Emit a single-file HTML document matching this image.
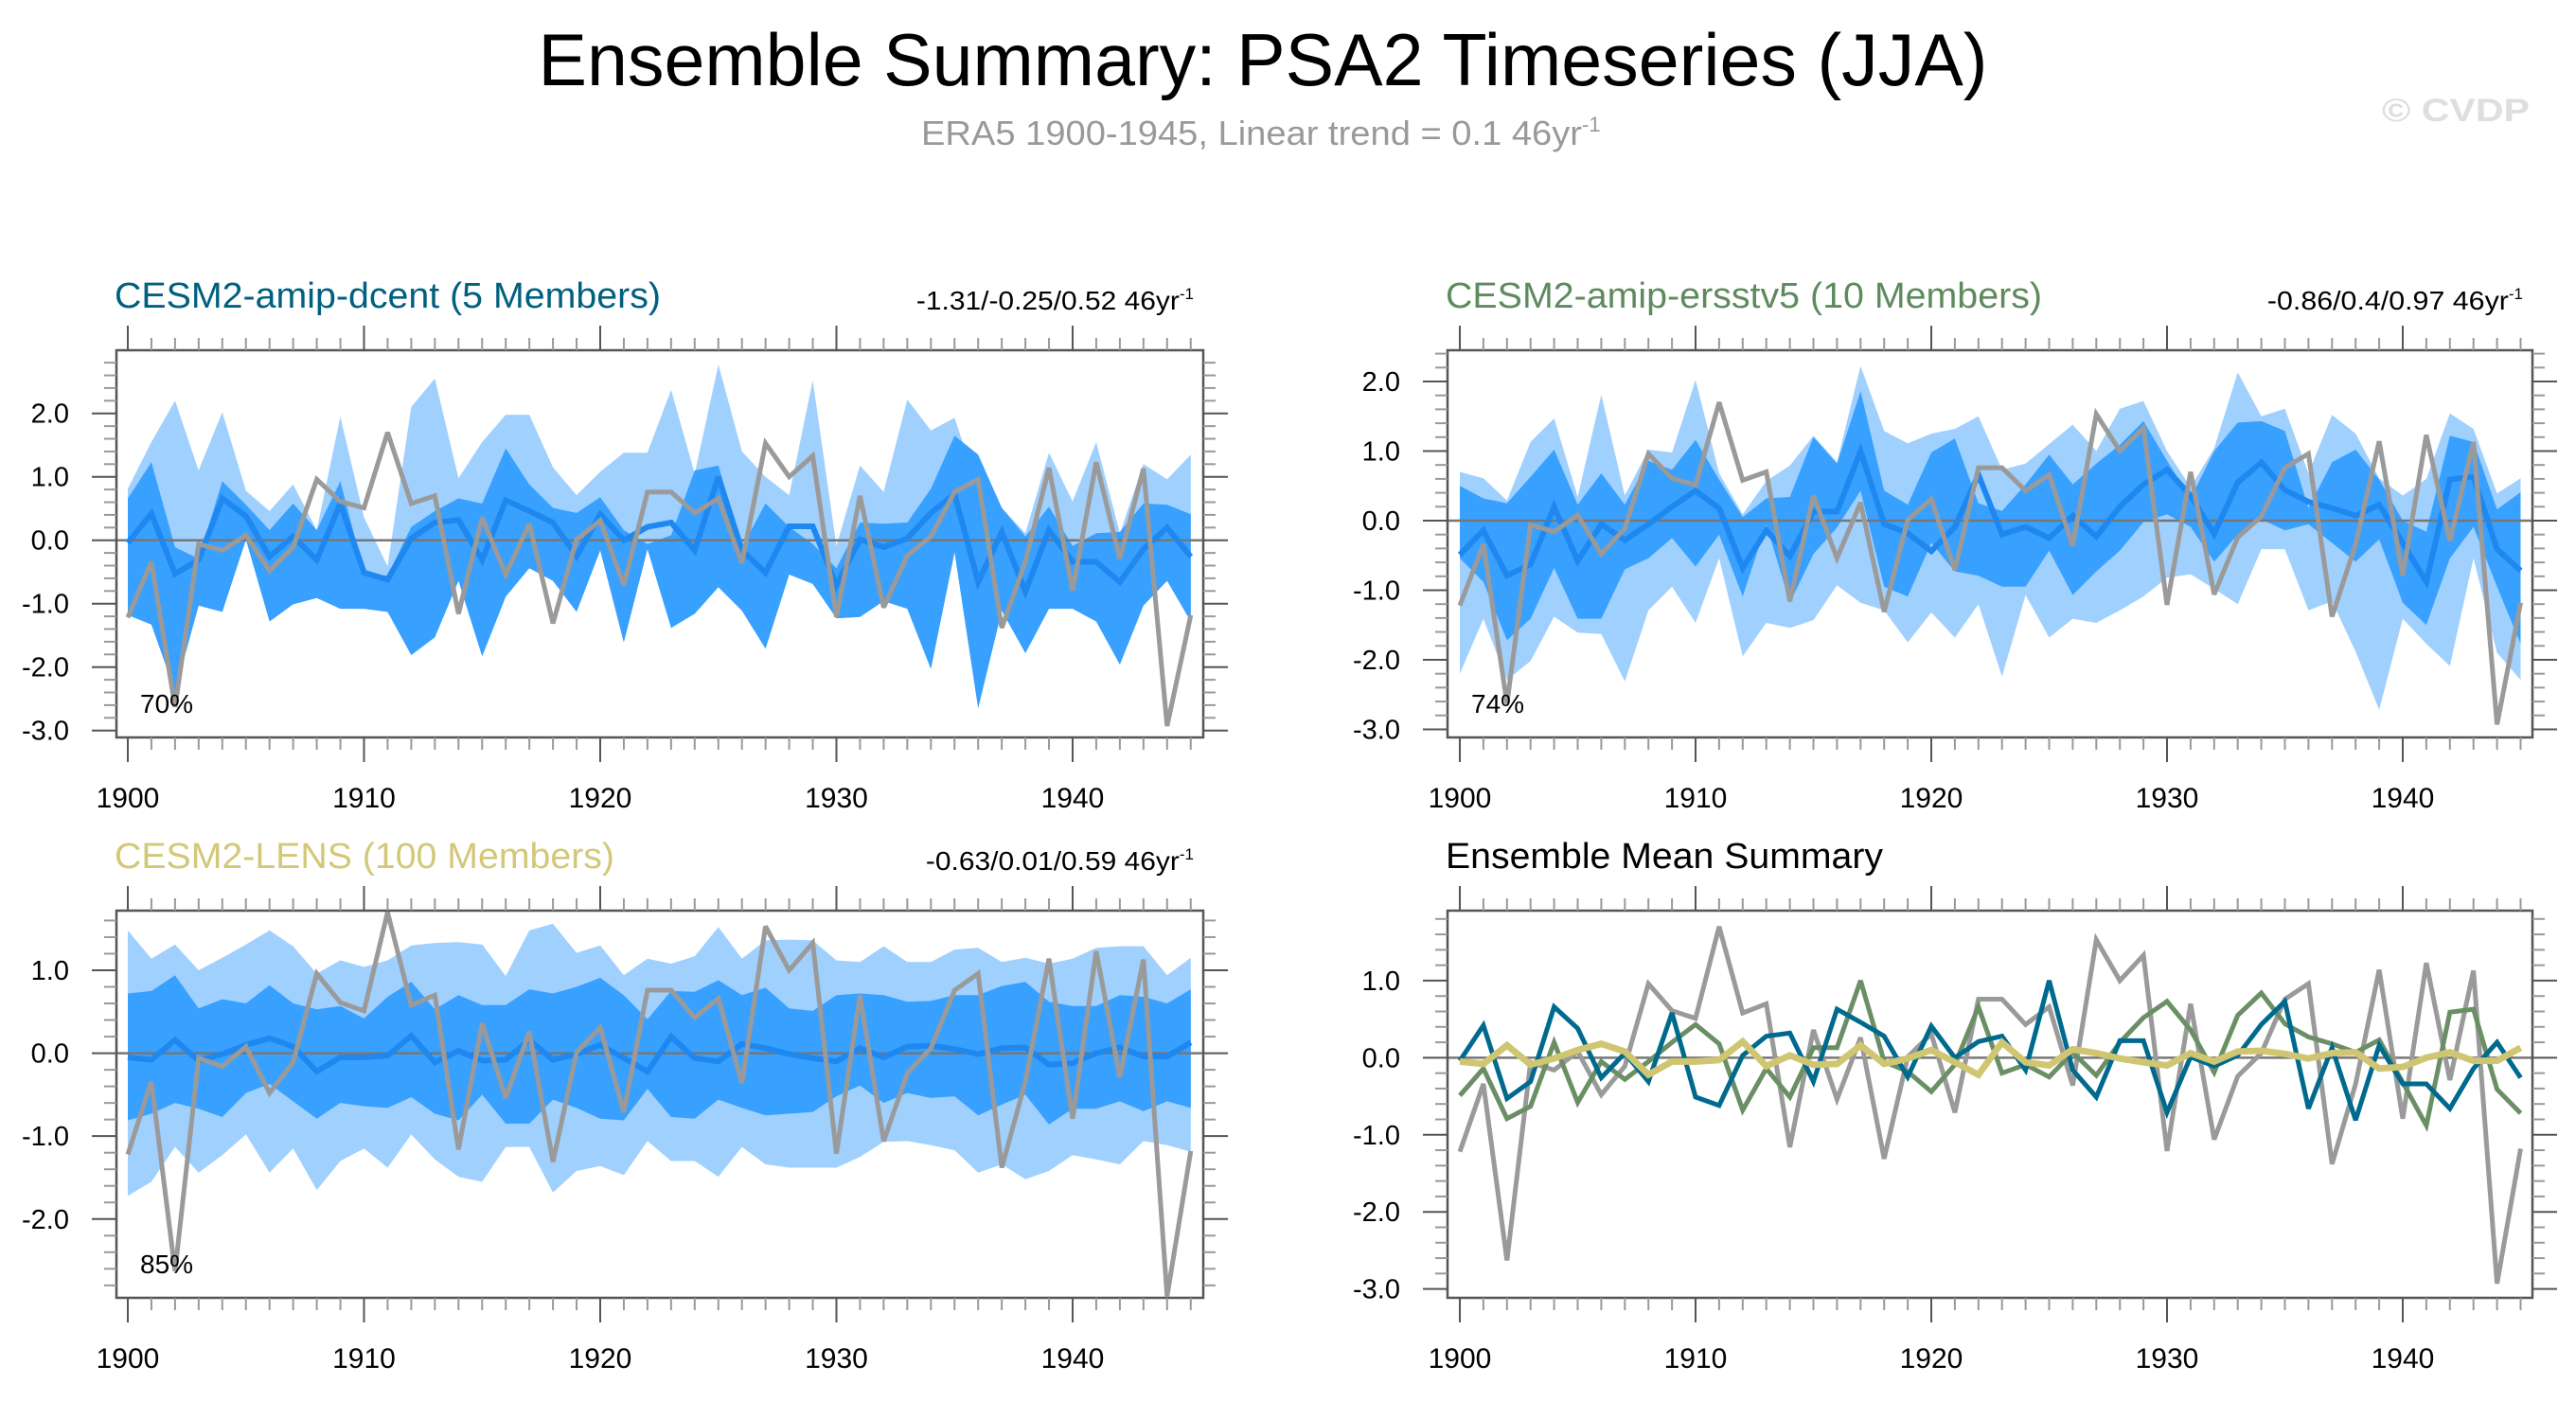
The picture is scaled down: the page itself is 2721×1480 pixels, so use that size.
<!DOCTYPE html>
<html><head><meta charset="utf-8"><style>
html,body{margin:0;padding:0;background:#fff;}
svg{display:block;font-family:"Liberation Sans",Arial,sans-serif;}
</style></head><body>
<svg id="fig" width="2721" height="1480" viewBox="0 0 2721 1480" xmlns="http://www.w3.org/2000/svg">
<text x="1334" y="90" font-size="78" text-anchor="middle" fill="#000" textLength="1531" lengthAdjust="spacingAndGlyphs">Ensemble Summary: PSA2 Timeseries (JJA)</text>
<text x="973" y="153" font-size="36" fill="#999"><tspan textLength="698" lengthAdjust="spacingAndGlyphs">ERA5 1900-1945, Linear trend = 0.1 46yr</tspan><tspan dy="-14" font-size="22">-1</tspan></text>
<text x="2516" y="128" font-size="34" font-weight="bold" fill="#dedede" textLength="156" lengthAdjust="spacingAndGlyphs">© CVDP</text>
<g id="panels"></g>
</svg>
<script>
const years = [];
for (let y = 1900; y <= 1945; y++) years.push(y);

const era5 = [-1.22,-0.34,-2.63,-0.06,-0.16,0.08,-0.48,-0.11,0.96,0.61,0.51,1.70,0.58,0.70,-1.16,0.36,-0.54,0.26,-1.31,0.01,0.31,-0.71,0.76,0.76,0.43,0.66,-0.36,1.53,1.00,1.33,-1.21,0.70,-1.06,-0.24,0.06,0.76,0.96,-1.38,-0.34,1.14,-0.79,1.23,-0.29,1.13,-2.93,-1.18];

const dcentMean = [-0.04,0.42,-0.53,-0.31,0.66,0.38,-0.26,0.06,-0.31,0.58,-0.51,-0.62,0.03,0.28,0.32,-0.31,0.63,0.46,0.28,-0.25,0.41,0.00,0.21,0.28,-0.16,1.00,-0.16,-0.51,0.22,0.22,-0.71,0.01,-0.11,0.03,0.43,0.73,-0.66,0.13,-0.81,0.16,-0.34,-0.34,-0.66,-0.14,0.20,-0.26];
const dcentLightHi = [0.81,1.55,2.20,1.10,2.02,0.78,0.46,0.88,0.16,1.95,0.36,-0.41,2.10,2.55,0.98,1.55,1.98,1.98,1.15,0.71,1.08,1.38,1.38,2.37,1.05,2.77,1.40,1.00,0.71,2.52,-0.09,1.18,0.76,2.22,1.73,1.93,0.81,0.51,0.11,1.38,0.61,1.55,0.11,1.20,0.96,1.35];
const dcentDarkHi = [0.66,1.23,-0.11,-0.29,0.93,0.56,0.16,0.58,0.16,0.93,-0.51,-0.56,0.21,0.46,0.66,0.58,1.45,0.88,0.51,0.43,0.68,0.16,-0.06,0.08,1.10,1.18,-0.11,0.58,0.21,-0.06,-0.44,0.28,0.26,0.28,0.81,1.65,1.35,0.51,0.06,0.53,-0.09,0.11,0.13,0.58,0.56,0.41];
const dcentDarkLo = [-1.18,-1.33,-2.38,-1.03,-1.13,0.01,-1.28,-1.01,-0.91,-1.08,-1.08,-1.13,-1.81,-1.53,-0.64,-1.83,-0.89,-0.44,-0.64,-1.13,-0.16,-1.61,-0.14,-1.38,-1.16,-0.74,-1.11,-1.71,-0.54,-0.69,-1.23,-1.21,-0.96,-1.08,-2.03,-0.19,-2.65,-1.11,-1.78,-1.08,-1.08,-1.28,-1.96,-1.03,-0.64,-1.28];
const dcentLightLo = [-1.18,-1.33,-2.38,-1.03,-1.13,0.01,-1.28,-1.01,-0.91,-1.08,-1.08,-1.13,-1.81,-1.53,-0.64,-1.83,-0.89,-0.44,-0.64,-1.13,-0.16,-1.61,-0.14,-1.38,-1.16,-0.74,-1.11,-1.71,-0.54,-0.69,-1.23,-1.21,-0.96,-1.08,-2.03,-0.19,-2.65,-1.11,-1.78,-1.08,-1.08,-1.28,-1.96,-1.03,-0.64,-1.28];

const ersstMean = [-0.49,-0.14,-0.79,-0.63,0.20,-0.58,-0.05,-0.28,-0.05,0.20,0.43,0.18,-0.68,-0.14,-0.51,0.13,0.13,1.00,-0.05,-0.18,-0.44,-0.09,0.66,-0.20,-0.09,-0.25,0.07,-0.23,0.20,0.52,0.73,0.36,-0.19,0.55,0.84,0.44,0.27,0.18,0.07,0.23,-0.32,-0.88,0.59,0.63,-0.41,-0.72];
const ersstLightHi = [0.70,0.61,0.29,1.13,1.47,0.34,1.81,0.36,1.02,0.98,2.02,0.68,0.09,0.57,0.79,1.22,0.84,2.22,1.29,1.11,1.25,1.32,1.50,0.73,0.82,1.10,1.38,1.00,1.61,1.72,1.00,0.48,1.04,2.13,1.50,1.61,0.68,1.52,1.25,0.61,0.36,0.60,1.54,1.32,0.39,0.61];
const ersstDarkHi = [0.50,0.32,0.25,0.63,1.02,0.23,0.68,0.23,0.86,0.73,1.16,0.59,0.05,0.32,0.34,1.20,0.82,1.86,0.43,0.23,0.98,1.18,0.25,0.14,0.52,0.95,0.52,0.82,1.09,1.43,0.86,0.32,1.00,1.41,1.43,1.29,0.18,0.84,1.02,0.59,0.00,-0.16,1.22,1.13,0.16,0.41];
const ersstDarkLo = [-0.54,-0.88,-1.72,-1.41,-0.68,-1.41,-1.41,-0.70,-0.54,-0.25,-0.66,-0.20,-1.09,-0.05,-1.18,-0.48,-0.10,0.43,-0.95,-1.09,-0.32,-0.73,-0.79,-0.95,-0.95,-0.43,-1.07,-0.73,-0.43,-0.02,0.09,-0.09,-0.59,-0.20,0.02,-0.14,-0.05,-0.32,-0.59,-0.27,-1.18,-1.50,-0.54,-0.09,-0.95,-1.77];
const ersstLightLo = [-2.20,-1.41,-2.29,-2.02,-1.38,-1.61,-1.63,-2.31,-1.29,-0.95,-1.47,-0.54,-1.95,-1.47,-1.54,-1.43,-0.93,-1.18,-1.29,-1.75,-1.32,-1.68,-1.20,-2.24,-1.07,-1.68,-1.41,-1.47,-1.29,-1.09,-0.82,-0.77,-0.98,-1.20,-0.41,-0.41,-1.29,-1.16,-1.88,-2.72,-1.41,-1.77,-2.09,-0.54,-1.90,-2.29];

const lensMean = [-0.05,-0.08,0.16,-0.09,-0.01,0.10,0.18,0.08,-0.22,-0.05,-0.05,-0.03,0.21,-0.11,0.03,-0.09,-0.08,0.16,-0.08,-0.01,0.10,-0.06,-0.22,0.20,-0.06,-0.10,0.11,0.06,-0.01,-0.06,-0.10,0.06,-0.05,0.08,0.09,0.05,-0.01,0.06,0.07,-0.14,-0.12,0.00,0.07,-0.04,-0.04,0.13];
const lensLightHi = [1.48,1.14,1.31,1.00,1.15,1.31,1.48,1.29,0.96,1.12,1.04,1.12,1.30,1.33,1.34,1.31,0.93,1.48,1.56,1.21,1.30,0.94,1.14,1.08,1.17,1.52,1.14,1.36,1.37,1.36,1.12,1.10,1.29,1.10,1.10,1.25,1.27,1.10,1.15,1.08,1.14,1.27,1.29,1.29,0.94,1.15];
const lensDarkHi = [0.72,0.75,0.94,0.54,0.65,0.60,0.82,0.60,0.53,0.57,0.42,0.68,0.86,0.53,0.70,0.58,0.58,0.77,0.72,0.80,0.91,0.70,0.41,0.75,0.74,0.88,0.70,0.79,0.54,0.51,0.70,0.72,0.70,0.62,0.63,0.70,0.70,0.81,0.86,0.62,0.57,0.57,0.70,0.68,0.60,0.77];
const lensDarkLo = [-0.81,-0.73,-0.60,-0.67,-0.77,-0.48,-0.37,-0.58,-0.79,-0.60,-0.64,-0.66,-0.53,-0.73,-0.81,-0.50,-0.85,-0.85,-0.56,-0.66,-0.79,-0.81,-0.43,-0.77,-0.79,-0.56,-0.66,-0.75,-0.73,-0.71,-0.52,-0.39,-0.60,-0.48,-0.54,-0.52,-0.75,-0.62,-0.50,-0.86,-0.67,-0.67,-0.58,-0.70,-0.58,-0.66];
const lensLightLo = [-1.72,-1.55,-1.13,-1.44,-1.23,-0.98,-1.44,-1.15,-1.65,-1.30,-1.15,-1.38,-0.98,-1.28,-1.49,-1.55,-1.13,-1.13,-1.68,-1.42,-1.36,-1.47,-1.06,-1.30,-1.30,-1.49,-1.13,-1.34,-1.38,-1.38,-1.38,-1.25,-1.07,-1.06,-1.11,-1.17,-1.44,-1.34,-1.52,-1.42,-1.23,-1.28,-1.34,-1.06,-1.11,-1.19];

const xTickLabels = [1900,1910,1920,1930,1940];
const yTicksTop = [2,1,0,-1,-2,-3];
const yTicksLens = [1,0,-1,-2];
const yTicksMean = [1,0,-1,-2,-3];

const NS = "http://www.w3.org/2000/svg";
const root = document.getElementById('panels');
function mk(tag, attrs, parent, text) {
  const e = document.createElementNS(NS, tag);
  for (const k in attrs) e.setAttribute(k, attrs[k]);
  if (text !== undefined) e.textContent = text;
  (parent || root).appendChild(e);
  return e;
}

const panels = [
  {id:'dcent', left:123, right:1271, top:370, bottom:779, ymin:-3.109, ymax:2.996, x0:135, dx:24.95, ticks:yTicksTop,
   title:'CESM2-amip-dcent (5 Members)', tw:577, tcolor:'#00607f', stat:'-1.31/-0.25/0.52 46yr', sw:278, pct:'70%',
   bands:[dcentLightHi,dcentLightLo,dcentDarkHi,dcentDarkLo], mean:dcentMean},
  {id:'ersstv5', left:1529, right:2675, top:370, bottom:779, ymin:-3.116, ymax:2.449, x0:1542, dx:24.9, ticks:yTicksTop,
   title:'CESM2-amip-ersstv5 (10 Members)', tw:630, tcolor:'#5e8a5e', stat:'-0.86/0.4/0.97 46yr', sw:255, pct:'74%',
   bands:[ersstLightHi,ersstLightLo,ersstDarkHi,ersstDarkLo], mean:ersstMean},
  {id:'lens', left:123, right:1271, top:962, bottom:1371, ymin:-2.95, ymax:1.719, x0:135, dx:24.95, ticks:yTicksLens,
   title:'CESM2-LENS (100 Members)', tw:528, tcolor:'#d2c878', stat:'-0.63/0.01/0.59 46yr', sw:268, pct:'85%',
   bands:[lensLightHi,lensLightLo,lensDarkHi,lensDarkLo], mean:lensMean},
  {id:'summary', left:1529, right:2675, top:962, bottom:1371, ymin:-3.115, ymax:1.908, x0:1542, dx:24.9, ticks:yTicksMean,
   title:'Ensemble Mean Summary', tw:462, tcolor:'#000', stat:null, pct:null}
];

panels.forEach(p => {
  const g = mk('g', {});
  
  
  const X = yr => p.x0 + (yr - 1900) * p.dx;
  const Y = v => p.bottom - (v - p.ymin) / (p.ymax - p.ymin) * (p.bottom - p.top);
  const cid = 'clip-' + p.id;
  const cp = mk('clipPath', {id:cid}, g);
  mk('rect', {x:p.left, y:p.top, width:p.right-p.left, height:p.bottom-p.top}, cp);
  const plot = mk('g', {'clip-path':'url(#'+cid+')'}, g);

  function band(hi, lo, color, name) {
    let d = '';
    years.forEach((yr,i) => { d += (i?'L':'M') + X(yr).toFixed(1) + ',' + Y(hi[i]).toFixed(1); });
    for (let i = years.length-1; i >= 0; i--) d += 'L' + X(years[i]).toFixed(1) + ',' + Y(lo[i]).toFixed(1);
    const e = mk('path', {d:d+'Z', fill:color, stroke:'none'}, plot);
    
    
  }
  function line(vals, color, w, name) {
    const d = vals.map((v,i) => (i?'L':'M') + X(years[i]).toFixed(1) + ',' + Y(v).toFixed(1)).join('');
    const e = mk('path', {d:d, fill:'none', stroke:color, 'stroke-width':w, 'stroke-linejoin':'miter', 'stroke-miterlimit':3}, plot);
    
    
  }

  if (p.bands) {
    band(p.bands[0], p.bands[1], '#a0d0fd', 'outer-spread-band');
    band(p.bands[2], p.bands[3], '#38a0ff', 'inner-spread-band');
  }
  const z = mk('line', {x1:p.left, x2:p.right, y1:Y(0), y2:Y(0), stroke:'#777', 'stroke-width':2.5}, plot);
  
  
  if (p.bands) {
    line(p.mean, '#1e88f0', 6, 'ensemble-mean-line');
    line(era5, '#9a9a9a', 5, 'era5-line');
  } else {
    line(era5, '#9a9a9a', 5, 'era5-line');
    line(ersstMean, '#6a8f65', 5, 'ersstv5-mean-line');
    line(dcentMean, '#006a8e', 5, 'dcent-mean-line');
    line(lensMean, '#d0c672', 7, 'lens-mean-line');
  }

  const box = mk('rect', {x:p.left, y:p.top, width:p.right-p.left, height:p.bottom-p.top, fill:'none', stroke:'#555', 'stroke-width':2.5}, g);
  
  

  years.forEach(yr => {
    const major = (yr % 10 === 0);
    const L = major ? 26 : 13;
    const c = major ? '#555' : '#999';
    const b = mk('line', {x1:X(yr), x2:X(yr), y1:p.bottom, y2:p.bottom+L, stroke:c, 'stroke-width':2}, g);
    
    
    const t = mk('line', {x1:X(yr), x2:X(yr), y1:p.top, y2:p.top-L, stroke:c, 'stroke-width':2}, g);
    
    
  });
  xTickLabels.forEach(yr => {
    const t = mk('text', {x:X(yr), y:p.bottom+74, 'font-size':30, 'text-anchor':'middle', fill:'#000'}, g, String(yr));
    
    
  });
  for (let k = Math.ceil(p.ymin*5); k <= Math.floor(p.ymax*5); k++) {
    const v = k/5, major = (k % 5 === 0);
    const L = major ? 26 : 13;
    const c = major ? '#555' : '#999';
    const a = mk('line', {x1:p.left-L, x2:p.left, y1:Y(v), y2:Y(v), stroke:c, 'stroke-width':2}, g);
    
    
    const b = mk('line', {x1:p.right, x2:p.right+L, y1:Y(v), y2:Y(v), stroke:c, 'stroke-width':2}, g);
    
    
  }
  p.ticks.forEach(v => {
    const t = mk('text', {x:p.left-50, y:Y(v)+10, 'font-size':29, 'text-anchor':'end', fill:'#000'}, g, v.toFixed(1));
    
    
  });
  const tt = mk('text', {x:p.left-2, y:p.top-45, 'font-size':38, fill:p.tcolor, textLength:p.tw, lengthAdjust:'spacingAndGlyphs'}, g, p.title);
  
  
  if (p.stat) {
    const st = mk('text', {x:p.right-10, y:p.top-43, 'font-size':28, 'text-anchor':'end', fill:'#000'}, g);
    
    
    mk('tspan', {textLength:p.sw, lengthAdjust:'spacingAndGlyphs'}, st, p.stat);
    mk('tspan', {dy:-11, 'font-size':17}, st, '-1');
  }
  if (p.pct) {
    const pt = mk('text', {x:p.left+25, y:p.bottom-26, 'font-size':28, fill:'#000'}, g, p.pct);
    
    
  }
});
</script>
</body></html>
